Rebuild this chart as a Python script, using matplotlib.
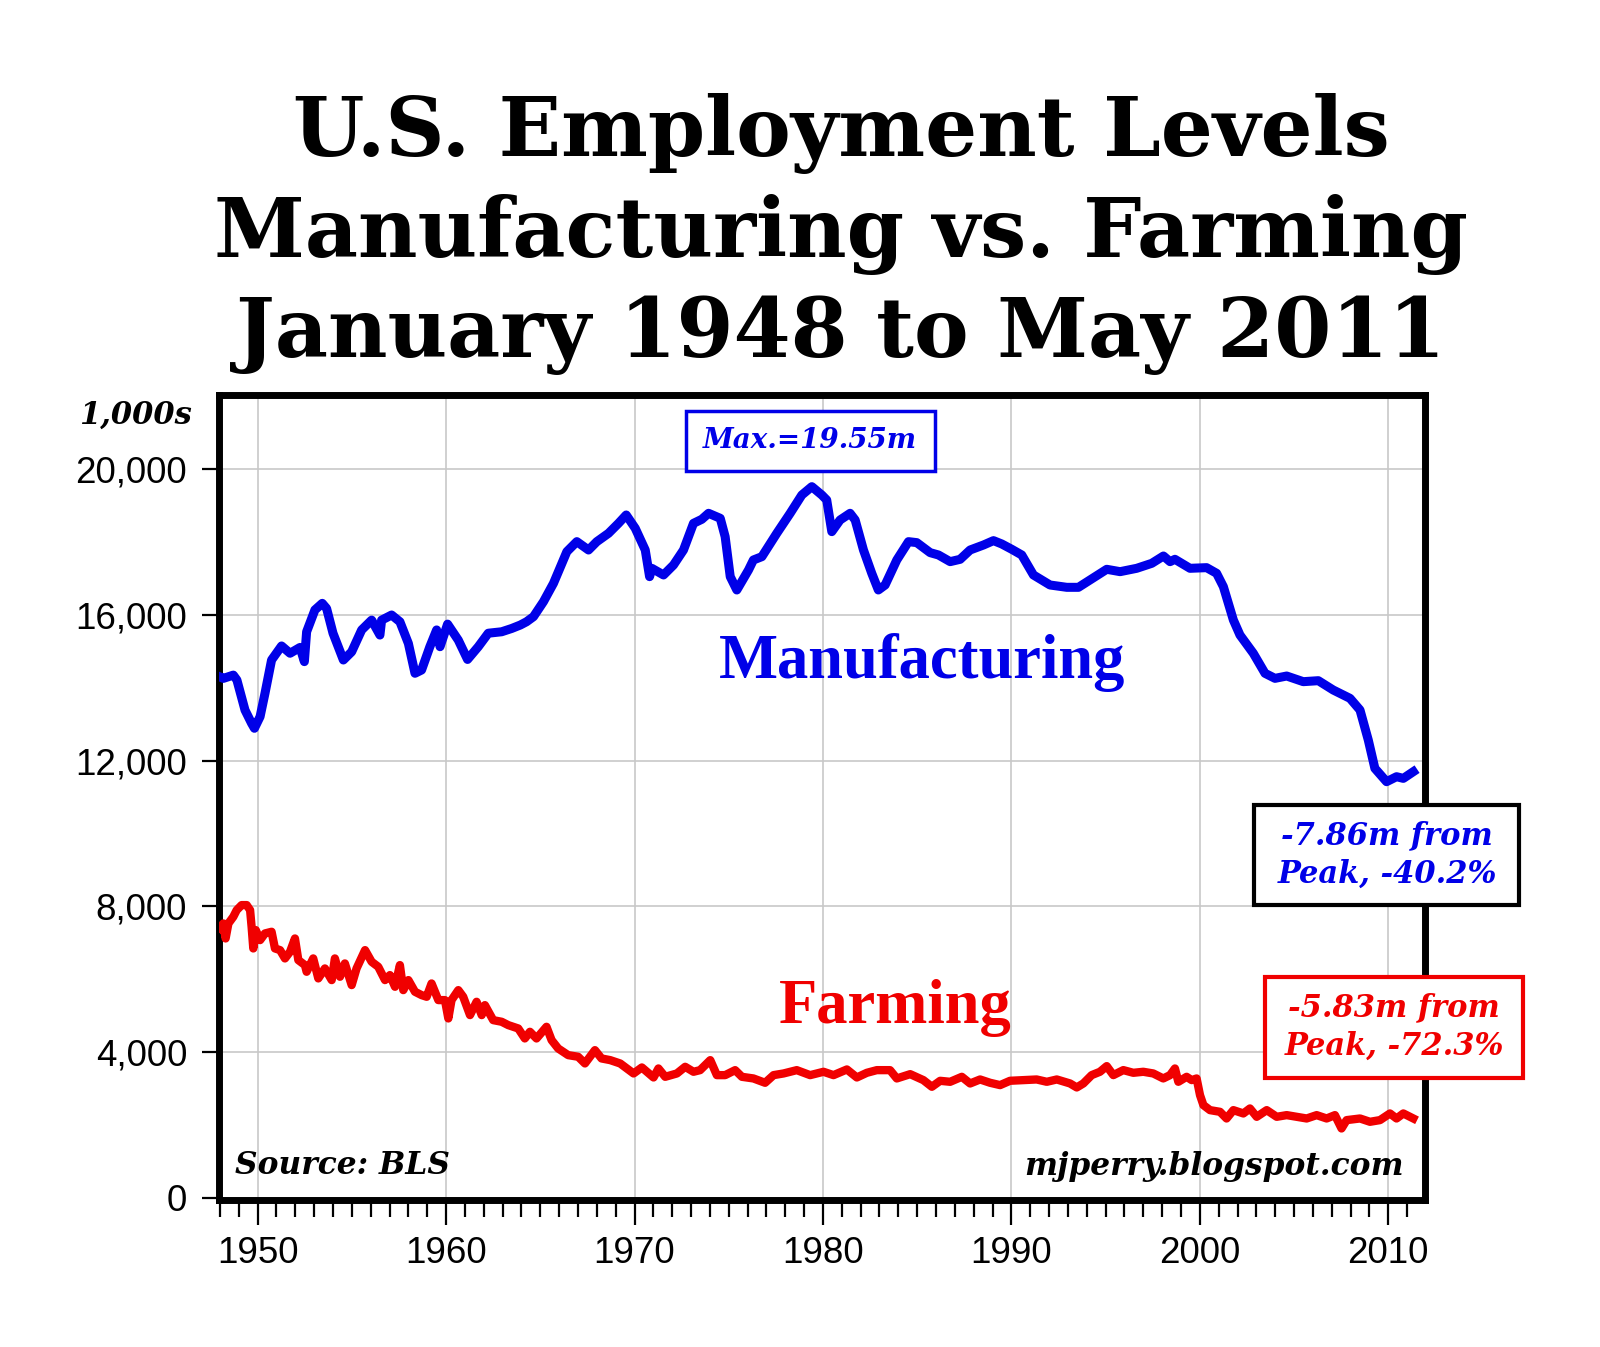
import matplotlib
matplotlib.use('Agg')
import matplotlib.pyplot as plt
from matplotlib.patches import Rectangle
from matplotlib.ticker import MultipleLocator, FuncFormatter

# Manufacturing employment (thousands)
mfg_year = [1948.0, 1948.18, 1948.71, 1948.9, 1949.33, 1949.68, 1949.83, 1950.13, 1950.39, 1950.74,
            1951.27, 1951.72, 1952.25, 1952.48, 1952.6, 1953.04, 1953.43, 1953.66, 1954.0, 1954.55,
            1954.99, 1955.52, 1956.05, 1956.49, 1956.58, 1957.11, 1957.55, 1958.0, 1958.35, 1958.7,
            1959.14, 1959.5, 1959.68, 1960.08, 1960.65, 1961.14, 1961.71, 1962.24, 1962.95, 1963.48,
            1963.94, 1964.27, 1964.64, 1965.17, 1965.7, 1966.41, 1966.94, 1967.56, 1968.0, 1968.62,
            1969.15, 1969.56, 1970.04, 1970.57, 1970.8, 1970.92, 1971.54, 1972.07, 1972.6, 1973.13,
            1973.57, 1973.93, 1974.55, 1974.81, 1975.08, 1975.43, 1976.05, 1976.31, 1976.76, 1977.55,
            1978.26, 1978.88, 1979.41, 1979.94, 1980.2, 1980.47, 1980.91, 1981.44, 1981.71, 1982.15,
            1982.59, 1982.94, 1983.3, 1983.92, 1984.54, 1984.98, 1985.69, 1986.13, 1986.75, 1987.28,
            1987.81, 1988.52, 1989.05, 1989.49, 1990.02, 1990.55, 1991.17, 1992.05, 1992.94, 1993.56,
            1994.17, 1995.06, 1995.77, 1996.65, 1997.45, 1998.07, 1998.42, 1998.68, 1999.48, 2000.36,
            2000.89, 2001.25, 2001.78, 2002.13, 2002.84, 2003.46, 2003.99, 2004.61, 2005.49, 2006.29,
            2007.08, 2007.97, 2008.5, 2008.94, 2009.29, 2009.91, 2010.44, 2010.8, 2011.33]
mfg_k = [14300, 14260, 14350, 14215, 13390, 13025, 12890, 13210, 13850, 14765,
         15150, 14950, 15110, 14720, 15540, 16140, 16320, 16180, 15500, 14765,
         14990, 15590, 15860, 15450, 15860, 16000, 15815, 15220, 14400, 14490,
         15130, 15590, 15130, 15750, 15310, 14780, 15130, 15500, 15540, 15630,
         15725, 15815, 15955, 16367, 16870, 17740, 18014, 17785, 18014, 18243,
         18517, 18746, 18380, 17785, 17053, 17282, 17099, 17373, 17785, 18517,
         18627, 18792, 18655, 18151, 17053, 16687, 17236, 17511, 17602, 18243,
         18792, 19295, 19524, 19295, 19158, 18289, 18609, 18792, 18609, 17785,
         17145, 16687, 16824, 17511, 18014, 17987, 17712, 17648, 17465, 17529,
         17785, 17922, 18042, 17950, 17804, 17648, 17099, 16824, 16760, 16760,
         16962, 17255, 17190, 17282, 17419, 17620, 17465, 17529, 17282, 17300,
         17145, 16778, 15863, 15451, 14948, 14399, 14261, 14325, 14170, 14197,
         13941, 13712, 13392, 12568, 11790, 11424, 11561, 11515, 11699]

# Farm employment (thousands)
farm_year = [1948.0, 1948.18, 1948.3, 1948.45, 1948.71, 1948.89, 1949.15, 1949.42, 1949.6, 1949.68,
             1949.77, 1949.9, 1950.13, 1950.39, 1950.74, 1950.92, 1951.19, 1951.45, 1951.72, 1951.98,
             1952.16, 1952.51, 1952.6, 1952.95, 1953.22, 1953.57, 1953.93, 1954.1, 1954.37, 1954.63,
             1954.99, 1955.25, 1955.7, 1956.05, 1956.4, 1956.76, 1957.02, 1957.29, 1957.55, 1957.73,
             1958.0, 1958.35, 1958.7, 1958.97, 1959.23, 1959.59, 1959.94, 1960.12, 1960.29, 1960.65,
             1960.91, 1961.27, 1961.62, 1961.89, 1962.06, 1962.5, 1962.95, 1963.3, 1963.83, 1964.18,
             1964.45, 1964.8, 1965.33, 1965.6, 1965.95, 1966.48, 1967.01, 1967.37, 1967.9, 1968.25,
             1968.71, 1969.24, 1969.95, 1970.39, 1971.01, 1971.27, 1971.63, 1972.25, 1972.69, 1973.13,
             1973.48, 1974.02, 1974.37, 1974.81, 1975.34, 1975.7, 1976.31, 1976.93, 1977.38, 1977.91,
             1978.61, 1979.32, 1980.03, 1980.56, 1981.27, 1981.8, 1982.33, 1982.86, 1983.56, 1983.92,
             1984.63, 1985.33, 1985.78, 1986.22, 1986.75, 1987.37, 1987.81, 1988.34, 1988.87, 1989.4,
             1989.93, 1990.64, 1991.34, 1991.88, 1992.41, 1993.11, 1993.47, 1993.82, 1994.26, 1994.7,
             1995.06, 1995.41, 1995.94, 1996.47, 1997.0, 1997.53, 1998.06, 1998.42, 1998.68, 1998.86,
             1999.3, 1999.57, 1999.83, 2000.01, 2000.19, 2000.54, 2001.07, 2001.42, 2001.78, 2002.31,
             2002.66, 2003.02, 2003.55, 2004.08, 2004.61, 2005.14, 2005.67, 2006.2, 2006.73, 2007.17,
             2007.52, 2007.79, 2008.5, 2009.03, 2009.56, 2010.09, 2010.44, 2010.8, 2011.33]
farm_k = [7400, 7533, 7120, 7533, 7716, 7899, 8036, 8036, 7899, 7441,
          6846, 7350, 7075, 7258, 7304, 6846, 6800, 6572, 6755, 7120,
          6526, 6389, 6206, 6572, 6023, 6297, 5977, 6572, 6069, 6434,
          5840, 6297, 6800, 6480, 6343, 5977, 6114, 5794, 6389, 5702,
          5977, 5657, 5565, 5519, 5885, 5428, 5428, 4924, 5428, 5702,
          5519, 5016, 5382, 5016, 5290, 4878, 4833, 4741, 4649, 4375,
          4558, 4375, 4695, 4329, 4100, 3917, 3872, 3689, 4054, 3826,
          3780, 3688, 3414, 3579, 3304, 3551, 3322, 3414, 3597, 3460,
          3505, 3780, 3368, 3368, 3505, 3322, 3277, 3158, 3368, 3414,
          3505, 3368, 3460, 3368, 3524, 3304, 3432, 3505, 3505, 3277,
          3395, 3231, 3048, 3212, 3185, 3322, 3139, 3249, 3158, 3094,
          3213, 3231, 3249, 3185, 3249, 3140, 3030, 3140, 3368, 3460,
          3615, 3368, 3506, 3432, 3460, 3414, 3277, 3368, 3551, 3185,
          3322, 3231, 3277, 2819, 2545, 2407, 2361, 2178, 2407, 2316,
          2453, 2224, 2407, 2224, 2270, 2224, 2178, 2270, 2178, 2270,
          1904, 2133, 2178, 2087, 2133, 2316, 2178, 2316, 2178]

title_lines = ['U.S. Employment Levels', 'Manufacturing vs. Farming', 'January 1948 to May 2011']

BLUE = '#0000e8'
RED = '#f00000'
W, H = 1600, 1347

def fx(x):
    return x / W

def fy(y):
    return 1 - y / H

fig = plt.figure(figsize=(16, 13.47), dpi=100)
ax = fig.add_axes([fx(219), fy(1200), 1206 / W, 805 / H])

ax.plot(mfg_year, mfg_k, color=BLUE, lw=6.5, solid_joinstyle='round', zorder=3)
ax.plot(farm_year, farm_k, color=RED, lw=6, solid_joinstyle='round', zorder=3)

ax.set_xlim(1947.95, 2011.95)
ax.set_ylim(-60, 22040)
ax.xaxis.set_major_locator(MultipleLocator(10))
ax.xaxis.set_minor_locator(MultipleLocator(1))
ax.yaxis.set_major_locator(MultipleLocator(4000))
ax.yaxis.set_major_formatter(FuncFormatter(lambda v, p: f'{int(v):,}'))
ax.grid(True, which='major', color='#c8c8c8', lw=1.2)
ax.set_axisbelow(True)
for s in ax.spines.values():
    s.set_linewidth(5)
    s.set_color('black')

ax.tick_params(axis='both', which='major', direction='out', width=1.6, color='black',
               labelsize=26.5, labelfontfamily='Liberation Sans')
ax.tick_params(axis='x', which='major', length=18, pad=8)
ax.tick_params(axis='x', which='minor', length=12, width=1.6)
ax.tick_params(axis='y', which='major', length=12, pad=11)

# title
title_base = [156, 257, 357]
for line, yb in zip(title_lines, title_base):
    fig.text(fx(841), fy(yb), line, ha='center', va='baseline', fontsize=59,
             fontweight='bold', family='DejaVu Serif')

fig.text(fx(192), fy(415), '1,000s', ha='right', va='center', fontsize=22,
         fontweight='bold', fontstyle='italic', family='DejaVu Serif')

# series labels
fig.text(fx(922), fy(663), 'Manufacturing', ha='center', va='center', fontsize=45,
         fontweight='bold', family='Liberation Serif', color=BLUE)
fig.text(fx(895), fy(1008), 'Farming', ha='center', va='center', fontsize=45,
         fontweight='bold', family='Liberation Serif', color=RED)

def fig_box(x0, y0, x1, y1, edge, lw):
    r = Rectangle((fx(x0), fy(y1)), (x1 - x0) / W, (y1 - y0) / H, transform=fig.transFigure,
                  facecolor='white', edgecolor=edge, lw=lw, zorder=5)
    fig.add_artist(r)

fig_box(686, 411, 935, 471, BLUE, 2.5)
fig.text(fx(810), fy(441), 'Max.=19.55m', ha='center', va='center', fontsize=20,
         fontweight='bold', fontstyle='italic', family='DejaVu Serif', color=BLUE, zorder=6)

fig_box(1254, 805, 1519, 905, 'black', 3)
fig.text(fx(1387), fy(855), '-7.86m from\nPeak, -40.2%', ha='center', va='center', fontsize=22,
         fontweight='bold', fontstyle='italic', family='DejaVu Serif', color=BLUE, zorder=6,
         linespacing=1.3)

fig_box(1265, 977, 1523, 1078, RED, 3)
fig.text(fx(1394), fy(1027), '-5.83m from\nPeak, -72.3%', ha='center', va='center', fontsize=22,
         fontweight='bold', fontstyle='italic', family='DejaVu Serif', color=RED, zorder=6,
         linespacing=1.3)

fig.text(fx(235), fy(1166), 'Source: BLS', ha='left', va='center', fontsize=22.5,
         fontweight='bold', fontstyle='italic', family='DejaVu Serif')
fig.text(fx(1404), fy(1166), 'mjperry.blogspot.com', ha='right', va='center', fontsize=22.5,
         fontweight='bold', fontstyle='italic', family='DejaVu Serif')

fig.savefig('out.png', dpi=100, facecolor='white')
